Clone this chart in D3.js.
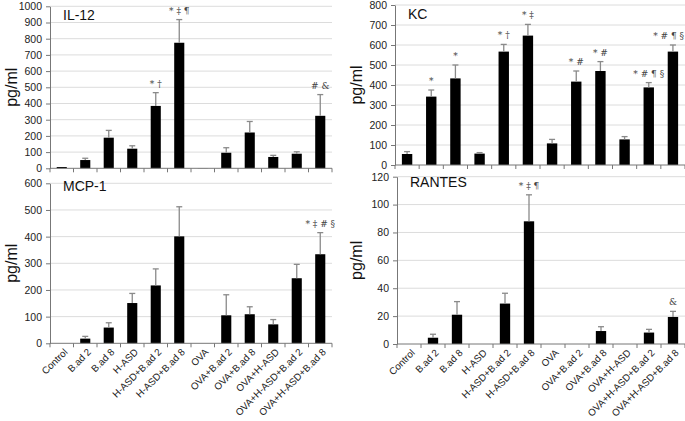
<!DOCTYPE html>
<html><head><meta charset="utf-8">
<script src="https://cdn.jsdelivr.net/npm/d3@7"></script>
<style>
body{margin:0;background:#fff;}
svg{display:block;font-family:"Liberation Sans",Arial,sans-serif;}
</style></head><body>
<svg id="chart" width="685" height="421"></svg>
<script>
const categories = ["Control","B.ad 2","B.ad 8","H-ASD","H-ASD+B.ad 2","H-ASD+B.ad 8","OVA","OVA+B.ad 2","OVA+B.ad 8","OVA+H-ASD","OVA+H-ASD+B.ad 2","OVA+H-ASD+B.ad 8"];

const il12 = [8, 51, 189, 121, 385, 775, 1, 96, 221, 70, 90, 324];
const il12Err = [0, 11, 45, 18, 82, 143, 0, 31, 68, 10, 12, 131];
const il12Notes = ["", "", "", "", "* \u2020", "* \u2021 \u00b6", "", "", "", "", "", "# &"];
const il12Ticks = [0,100,200,300,400,500,600,700,800,900,1000];

const kc = [55, 342, 433, 57, 567, 647, 108, 417, 470, 128, 388, 567];
const kcErr = [12, 33, 67, 5, 36, 56, 20, 53, 47, 14, 24, 33];
const kcNotes = ["", "*", "*", "", "* \u2020", "* \u2021", "", "* #", "* #", "", "* # \u00b6 \u00a7", "* # \u00b6 \u00a7"];
const kcTicks = [0,100,200,300,400,500,600,700,800];

const mcp1 = [0, 17.5, 59, 151, 217, 401, 0, 105, 109, 71, 244, 334];
const mcp1Err = [0, 8.5, 18, 36, 62, 111, 0, 77, 28, 18, 52, 81];
const mcp1Notes = ["", "", "", "", "", "", "", "", "", "", "", "* \u2021 # \u00a7"];
const mcp1Ticks = [0,100,200,300,400,500,600];

const rantes = [0, 4.5, 21, 0, 29, 88, 0, 0, 9.3, 0, 8.2, 19.4];
const rantesErr = [0, 2.5, 9.4, 0, 7.4, 19, 0, 0, 3.1, 0, 2.3, 4];
const rantesNotes = ["", "", "", "", "", "* \u2021 \u00b6", "", "", "", "", "", "&"];
const rantesTicks = [0,20,40,60,80,100,120];

const svg = d3.select("#chart");
const W = 685;

function panel(opt){
  const g = svg.append("g");
  const x = d3.scaleBand().domain(categories).range([opt.x0, opt.x1]).padding(0);
  const y = d3.scaleLinear().domain([0, opt.max]).range([opt.y0, opt.yTop]);
  const bw = x.bandwidth() * 0.43;

  // gridlines
  g.append("g").selectAll("line").data(opt.ticks.filter(d => d > 0)).join("line")
    .attr("x1", opt.x0).attr("x2", opt.x1)
    .attr("y1", d => y(d)).attr("y2", d => y(d))
    .attr("stroke", "#dcdcdc").attr("stroke-width", 1);

  // y axis
  const ya = g.append("g").attr("transform", `translate(${opt.x0},0)`)
    .call(d3.axisLeft(y).tickValues(opt.ticks).tickFormat(d3.format("d"))
      .tickSize(4).tickSizeOuter(0).tickPadding(4));
  ya.select(".domain").attr("stroke", "#777");
  ya.selectAll(".tick line").attr("stroke", "#777");
  ya.selectAll("text").attr("font-size", 10.5).attr("fill", "#222")
    .attr("font-family", "Liberation Sans, Arial, sans-serif");

  // bars
  g.append("g").selectAll("rect").data(opt.values).join("rect")
    .attr("x", (d, i) => x(categories[i]) + (x.bandwidth() - bw) / 2)
    .attr("width", bw)
    .attr("y", d => y(d))
    .attr("height", d => opt.y0 - y(d))
    .attr("fill", "#000");

  // error bars
  const eg = g.append("g").attr("stroke", "#8a8a8a").attr("stroke-width", 1.3);
  opt.values.forEach((v, i) => {
    if (opt.errs[i] <= 0) return;
    const cx = x(categories[i]) + x.bandwidth() / 2;
    const top = y(v + opt.errs[i]);
    eg.append("line").attr("x1", cx).attr("x2", cx).attr("y1", y(v)).attr("y2", top);
    eg.append("line").attr("x1", cx - 3).attr("x2", cx + 3).attr("y1", top).attr("y2", top);
  });

  // x axis
  g.append("line").attr("x1", opt.x0).attr("x2", opt.x1).attr("y1", opt.y0).attr("y2", opt.y0)
    .attr("stroke", "#777");
  const bounds = categories.map(c => x(c)).concat([opt.x1]);
  g.append("g").selectAll("line").data(bounds).join("line")
    .attr("x1", d => d).attr("x2", d => d)
    .attr("y1", opt.y0).attr("y2", opt.y0 + 4).attr("stroke", "#777");

  // annotations
  const notes = g.append("g").selectAll("text").data(opt.notes).join("text")
    .attr("x", (d, i) => x(categories[i]) + x.bandwidth() / 2)
    .attr("y", (d, i) => y(opt.values[i] + opt.errs[i]) - 6)
    .attr("text-anchor", "middle").attr("font-size", 9)
    .attr("font-family", "DejaVu Serif, serif").attr("fill", "#444")
    .text(d => d);
  notes.each(function(){
    const w = this.getComputedTextLength();
    const cx = +this.getAttribute("x");
    if (cx + w / 2 > W - 1) this.setAttribute("x", W - 1 - w / 2);
  });

  // title
  g.append("text").attr("x", opt.x0 + 13).attr("y", opt.titleY)
    .attr("font-size", 14).attr("fill", "#111").text(opt.title);

  // y label
  g.append("text").attr("transform", `translate(${opt.labelX},${(opt.y0 + opt.yTop) / 2}) rotate(-90)`)
    .attr("text-anchor", "middle").attr("font-size", 16).attr("fill", "#111").text("pg/ml");

  // x labels
  if (opt.xlabels) {
    g.append("g").selectAll("text").data(categories).join("text")
      .attr("transform", c => `translate(${x(c) + x.bandwidth() / 2 + 4},${opt.y0 + 7}) rotate(-45)`)
      .attr("text-anchor", "end").attr("dy", "0.35em")
      .attr("font-size", 9.8).attr("fill", "#222").text(c => c);
  }
}

panel({title: "IL-12", values: il12, errs: il12Err, notes: il12Notes, ticks: il12Ticks, max: 1000,
  x0: 50, x1: 332, y0: 168.3, yTop: 6.3, titleY: 20, labelX: 17, xlabels: false});
panel({title: "KC", values: kc, errs: kcErr, notes: kcNotes, ticks: kcTicks, max: 800,
  x0: 395, x1: 685, y0: 165, yTop: 5, titleY: 19, labelX: 362, xlabels: false});
panel({title: "MCP-1", values: mcp1, errs: mcp1Err, notes: mcp1Notes, ticks: mcp1Ticks, max: 600,
  x0: 50, x1: 332, y0: 343.3, yTop: 183.3, titleY: 191, labelX: 17, xlabels: true});
panel({title: "RANTES", values: rantes, errs: rantesErr, notes: rantesNotes, ticks: rantesTicks, max: 120,
  x0: 397, x1: 685, y0: 344, yTop: 176.7, titleY: 187, labelX: 362, xlabels: true});
</script>
</body></html>
